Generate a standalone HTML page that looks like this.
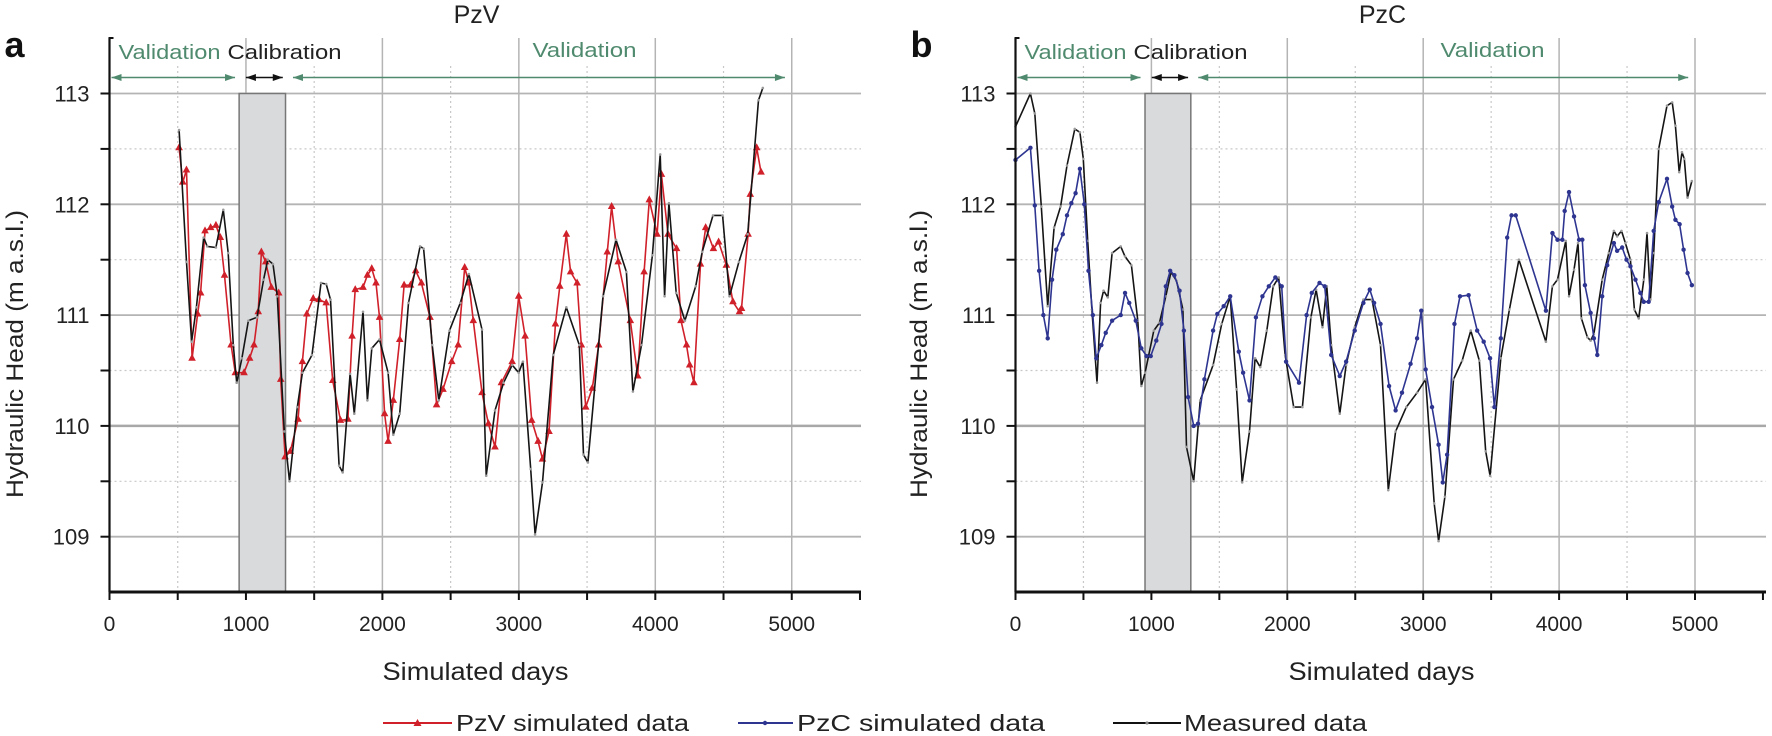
<!DOCTYPE html>
<html><head><meta charset="utf-8"><title>PzV / PzC hydraulic head</title>
<style>
html,body{margin:0;padding:0;background:#fff;}
svg{display:block;font-family:"Liberation Sans Narrow","Liberation Sans",sans-serif;}
</style></head>
<body>
<svg id="chart" width="1772" height="736" viewBox="0 0 1772 736" xmlns="http://www.w3.org/2000/svg">
<g id="panelA"></g>
<g id="panelB"></g>
<g id="legend">
  <g>
    <line x1="383" y1="723" x2="452" y2="723" stroke="#d0202a" stroke-width="2"/>
    <path d="M417.5,719 L421.5,726 L413.5,726 Z" fill="#d0202a"/>
    <text x="456" y="731" font-size="23" fill="#222" textLength="233" lengthAdjust="spacingAndGlyphs">PzV simulated data</text>
  </g>
  <g>
    <line x1="738" y1="723" x2="793" y2="723" stroke="#2e3590" stroke-width="2"/>
    <circle cx="765" cy="723" r="2.2" fill="#2e3590"/>
    <text x="797" y="731" font-size="23" fill="#222" textLength="248" lengthAdjust="spacingAndGlyphs">PzC simulated data</text>
  </g>
  <g>
    <line x1="1113" y1="723" x2="1181" y2="723" stroke="#111" stroke-width="2"/>
    <circle cx="1147" cy="723" r="1.6" fill="#888"/>
    <text x="1184" y="731" font-size="23" fill="#222" textLength="183" lengthAdjust="spacingAndGlyphs">Measured data</text>
  </g>
</g>
</svg>
<script>
// ---- Data ----
const yTicks = [109, 110, 111, 112, 113];
const xTicks = [0, 1000, 2000, 3000, 4000, 5000];

const measAdays = [510,564,602,637,690,716,780,834,870,907,932,970,1018,1081,1129,1160,1198,1230,1281,1319,1376,1414,1484,1550,1588,1620,1683,1709,1763,1794,1858,1890,1922,1979,2042,2080,2127,2191,2276,2302,2365,2413,2492,2571,2634,2730,2761,2825,2888,2951,2999,3030,3087,3119,3173,3252,3348,3443,3474,3506,3617,3712,3788,3836,3899,3979,4036,4068,4100,4153,4217,4296,4344,4423,4493,4544,4613,4677,4756,4788];
const measAvals = [112.67,111.48,110.76,111.07,111.70,111.62,111.61,111.95,111.56,110.73,110.39,110.61,110.95,110.98,111.32,111.50,111.46,111.17,109.95,109.50,110.17,110.48,110.64,111.29,111.28,111.14,109.64,109.58,110.47,110.11,111.03,110.23,110.70,110.78,110.48,109.92,110.11,111.11,111.62,111.60,110.73,110.23,110.86,111.11,111.37,110.87,109.55,110.14,110.39,110.55,110.48,110.58,109.61,109.02,109.49,110.64,111.07,110.73,109.74,109.67,111.17,111.68,111.39,110.31,110.73,111.54,112.45,111.17,112.01,111.20,110.95,111.26,111.57,111.90,111.90,111.17,111.48,111.73,112.94,113.05];

const pzvDays = [510,537,564,605,646,668,700,741,780,812,843,891,922,986,1027,1059,1090,1113,1145,1186,1240,1255,1287,1325,1382,1414,1446,1493,1535,1588,1636,1693,1747,1778,1801,1858,1890,1922,1953,1979,2016,2042,2080,2127,2159,2206,2244,2286,2349,2397,2444,2508,2555,2603,2634,2666,2730,2777,2825,2872,2951,2999,3046,3094,3141,3173,3221,3268,3300,3348,3379,3427,3458,3490,3538,3585,3648,3680,3728,3817,3871,3918,3956,4013,4045,4093,4156,4188,4229,4252,4283,4331,4369,4426,4464,4521,4569,4617,4632,4680,4696,4743,4775];
const pzvVals = [112.51,112.20,112.31,110.61,111.01,111.20,111.76,111.79,111.81,111.70,111.36,110.73,110.48,110.48,110.61,110.73,111.03,111.57,111.48,111.25,111.20,110.42,109.72,109.77,110.06,110.58,111.01,111.15,111.14,111.11,110.41,110.05,110.06,110.81,111.23,111.25,111.36,111.42,111.29,110.98,110.11,109.86,110.23,110.78,111.27,111.27,111.40,111.29,110.98,110.19,110.33,110.58,110.73,111.43,111.29,110.95,110.30,110.02,109.81,110.39,110.58,111.17,110.81,110.05,109.86,109.70,109.95,110.92,111.26,111.73,111.39,111.29,110.73,110.17,110.34,110.73,111.57,111.98,111.48,110.95,110.45,111.39,112.04,111.73,112.27,111.73,111.60,110.95,110.73,110.55,110.39,111.46,111.79,111.60,111.66,111.45,111.12,111.03,111.06,111.73,112.09,112.51,112.29];

const measBdays = [0,110,142,190,237,284,332,379,436,474,499,531,562,600,626,648,679,711,774,806,853,900,926,954,1018,1059,1106,1144,1185,1232,1258,1311,1359,1454,1517,1580,1627,1668,1722,1763,1801,1849,1896,1937,1984,2047,2111,2174,2212,2259,2291,2323,2386,2433,2496,2560,2623,2686,2743,2797,2876,2955,3018,3081,3113,3160,3223,3287,3350,3413,3460,3492,3571,3634,3704,3903,3951,3988,4049,4073,4110,4139,4164,4208,4232,4256,4317,4366,4403,4427,4459,4488,4525,4554,4586,4623,4647,4672,4696,4733,4794,4832,4856,4884,4904,4921,4945,4977];
const measBvals = [112.70,113.00,112.82,111.98,111.08,111.79,111.98,112.35,112.68,112.65,112.41,111.67,111.05,110.39,111.11,111.22,111.16,111.56,111.62,111.53,111.45,110.95,110.36,110.48,110.86,110.93,111.17,111.39,111.31,111.05,109.81,109.50,110.23,110.55,110.92,111.17,110.33,109.49,109.95,110.61,110.53,110.86,111.26,111.34,110.64,110.17,110.17,110.98,111.23,110.89,111.26,110.73,110.11,110.55,110.89,111.14,111.14,110.73,109.42,109.95,110.17,110.30,110.42,109.30,108.96,109.36,110.42,110.59,110.86,110.59,109.77,109.55,110.61,111.05,111.50,110.76,111.26,111.32,111.67,111.17,111.41,111.65,110.97,110.80,110.77,110.83,111.32,111.56,111.76,111.71,111.76,111.65,111.50,111.05,110.97,111.32,111.74,111.14,111.56,112.50,112.89,112.92,112.71,112.29,112.47,112.41,112.06,112.21];

const pzcDays = [0,110,142,174,205,237,269,300,348,379,411,442,474,506,537,569,594,632,664,711,774,806,837,885,926,964,995,1036,1074,1106,1138,1169,1207,1239,1270,1311,1343,1390,1454,1485,1532,1580,1643,1675,1722,1769,1817,1864,1912,1959,1991,2086,2142,2180,2237,2275,2323,2386,2433,2496,2560,2607,2639,2686,2749,2797,2844,2907,2955,2986,3018,3065,3113,3144,3176,3230,3271,3334,3397,3445,3492,3524,3571,3618,3650,3681,3903,3951,3988,4024,4041,4073,4110,4147,4171,4190,4232,4256,4281,4317,4354,4403,4427,4464,4496,4525,4562,4598,4623,4659,4696,4733,4794,4832,4856,4887,4916,4945,4977];
const pzcVals = [112.40,112.51,111.99,111.40,111.00,110.79,111.32,111.59,111.73,111.90,112.01,112.10,112.32,112.00,111.40,111.00,110.61,110.73,110.84,110.95,111.00,111.20,111.11,110.95,110.70,110.63,110.63,110.77,110.92,111.26,111.40,111.36,111.22,110.86,110.26,110.00,110.02,110.42,110.86,111.01,111.08,111.17,110.67,110.48,110.23,110.98,111.17,111.26,111.34,111.26,110.58,110.39,111.00,111.20,111.29,111.26,110.64,110.45,110.58,110.86,111.11,111.23,111.11,110.92,110.36,110.14,110.30,110.56,110.79,111.04,110.51,110.17,109.83,109.49,109.74,110.92,111.17,111.18,110.86,110.76,110.61,110.17,110.79,111.70,111.90,111.90,111.04,111.74,111.68,111.68,111.94,112.11,111.89,111.68,111.68,111.27,111.02,110.79,110.64,111.17,111.45,111.65,111.58,111.61,111.50,111.44,111.32,111.20,111.12,111.12,111.76,112.02,112.23,111.98,111.86,111.82,111.59,111.38,111.27];

// ---- Helpers ----
const NS = 'http://www.w3.org/2000/svg';
function mk(parent, tag, attrs, txt) {
  const e = document.createElementNS(NS, tag);
  for (const k in attrs) e.setAttribute(k, attrs[k]);
  if (txt !== undefined) e.textContent = txt;
  parent.appendChild(e);
  return e;
}
const Y_TOP = 38, Y_BOT = 592;
function yScale(v) { return 93.5 + (113 - v) * 110.8; }

function drawPanel(g, cfg) {
  const xS = d => cfg.x0 + d * cfg.k;
  const xRight = cfg.xEnd;
  // grid: dotted half units (horizontal)
  for (let v = 108.5; v <= 113.5; v += 0.5) {
    if (Math.abs(v - Math.round(v)) < 0.01) continue;
    if (v > 112.6 || v < 108.6) continue;
    const ln = mk(g, 'line', {x1: cfg.x0, x2: xRight, y1: yScale(v), y2: yScale(v), stroke: '#c8c8c8', 'stroke-width': 1.2, 'stroke-dasharray': '2,3'});
    
    
  }
  // vertical dotted
  for (let d = 500; d <= 5000; d += 1000) {
    const ln = mk(g, 'line', {x1: xS(d), x2: xS(d), y1: 66, y2: Y_BOT, stroke: '#c8c8c8', 'stroke-width': 1.2, 'stroke-dasharray': '2,3'});
    
    
  }
  // vertical solid
  for (let d = 1000; d <= 5000; d += 1000) {
    const ln = mk(g, 'line', {x1: xS(d), x2: xS(d), y1: 38, y2: Y_BOT, stroke: '#b4b4b4', 'stroke-width': 1.5});
    
    
  }
  // horizontal solid
  yTicks.forEach(v => {
    const ln = mk(g, 'line', {x1: cfg.x0, x2: xRight, y1: yScale(v), y2: yScale(v), stroke: v === 110 ? '#a8a8a8' : '#b4b4b4', 'stroke-width': v === 110 ? 2.5 : 1.8});
    
    
  });
  // calibration band
  const band = mk(g, 'rect', {x: xS(cfg.calStart), y: yScale(113), width: xS(cfg.calEnd) - xS(cfg.calStart), height: Y_BOT - yScale(113), fill: '#d9dadc', stroke: '#777', 'stroke-width': 1.5});
  
  
  // period arrows
  const arrows = [[0, cfg.v1End, '#4f8a6e'], [cfg.calStart + 35, cfg.calEnd - 20, '#111'], [cfg.calEnd + 40, cfg.arrowEnd, '#4f8a6e']];
  arrows.forEach((a, i) => {
    const ag = mk(g, 'g', {});
    
    
    const x1 = xS(a[0]) + 2, x2 = xS(a[1]), yy = 77.5;
    mk(ag, 'line', {x1: x1, x2: x2, y1: yy, y2: yy, stroke: a[2], 'stroke-width': 1.6});
    mk(ag, 'path', {d: `M${x1},${yy} L${x1 + 10},${yy - 3.5} L${x1 + 10},${yy + 3.5} Z`, fill: a[2]});
    mk(ag, 'path', {d: `M${x2},${yy} L${x2 - 10},${yy - 3.5} L${x2 - 10},${yy + 3.5} Z`, fill: a[2]});
  });
  // period labels
  const t1 = mk(g, 'text', {x: cfg.x0 + 9, y: 59, 'font-size': 20, fill: '#4f8a6e', textLength: 102, lengthAdjust: 'spacingAndGlyphs'}, 'Validation');
  
  
  const t2 = mk(g, 'text', {x: cfg.x0 + 118, y: 59, 'font-size': 20, fill: '#222', textLength: 114, lengthAdjust: 'spacingAndGlyphs'}, 'Calibration');
  
  
  const t3 = mk(g, 'text', {x: cfg.x0 + cfg.v2x, y: 57, 'font-size': 20, fill: '#4f8a6e', textLength: 104, lengthAdjust: 'spacingAndGlyphs'}, 'Validation');
  
  

  // series
  cfg.series.forEach(s => {
    const sg = mk(g, 'g', {});
    
    
    let d = '';
    s.days.forEach((dd, i) => { d += (i ? 'L' : 'M') + xS(dd).toFixed(1) + ',' + yScale(s.vals[i]).toFixed(1); });
    mk(sg, 'path', {d: d, fill: 'none', stroke: s.color, 'stroke-width': 1.6, 'stroke-linejoin': 'round'});
    s.days.forEach((dd, i) => {
      const cx = xS(dd), cy = yScale(s.vals[i]);
      let m;
      if (s.marker === 'tri') m = mk(sg, 'path', {d: `M${cx},${cy - 4.5} L${cx + 3.8},${cy + 2.5} L${cx - 3.8},${cy + 2.5} Z`, fill: s.color});
      else if (s.marker === 'circ') m = mk(sg, 'circle', {cx: cx, cy: cy, r: 2.2, fill: s.color});
      else m = mk(sg, 'circle', {cx: cx, cy: cy, r: 1.3, fill: '#9a9a9a'});
      
      
    });
  });

  // axes
  const ya = mk(g, 'line', {x1: cfg.x0, x2: cfg.x0, y1: Y_TOP, y2: Y_BOT, stroke: '#111', 'stroke-width': 2.2});
  
  
  mk(g, 'line', {x1: cfg.x0 - 1, x2: cfg.x0 + 4, y1: Y_TOP, y2: Y_TOP, stroke: '#111', 'stroke-width': 2});
  for (let v = 109; v <= 113; v += 0.5) {
    mk(g, 'line', {x1: cfg.x0 - 9, x2: cfg.x0, y1: yScale(v), y2: yScale(v), stroke: '#111', 'stroke-width': 2});
  }
  yTicks.forEach(v => {
    const t = mk(g, 'text', {x: cfg.x0 - 20, y: yScale(v) + 8, 'font-size': 22, fill: '#222', 'text-anchor': 'end'}, String(v));
    
    
  });
  const xa = mk(g, 'line', {x1: cfg.x0 - 1, x2: xRight, y1: Y_BOT, y2: Y_BOT, stroke: '#111', 'stroke-width': 3});
  
  
  for (let d = 0; d <= 5500; d += 500) {
    mk(g, 'line', {x1: xS(d), x2: xS(d), y1: Y_BOT, y2: Y_BOT + 8, stroke: '#111', 'stroke-width': 2});
  }
  xTicks.forEach(d => {
    const t = mk(g, 'text', {x: xS(d), y: 631, 'font-size': 21, fill: '#222', 'text-anchor': 'middle'}, String(d));
    
    
  });
  const xt = mk(g, 'text', {x: cfg.x0 + 366, y: 680, 'font-size': 25, fill: '#222', 'text-anchor': 'middle', textLength: 186, lengthAdjust: 'spacingAndGlyphs'}, 'Simulated days');
  
  
  const yt = mk(g, 'text', {x: 0, y: 0, 'font-size': 24, fill: '#222', 'text-anchor': 'middle', textLength: 288, lengthAdjust: 'spacingAndGlyphs', transform: `translate(${cfg.ytX},354) rotate(-90)`}, 'Hydraulic Head (m a.s.l.)');
  
  
  const tt = mk(g, 'text', {x: cfg.x0 + 367, y: 23, 'font-size': 25, fill: '#222', 'text-anchor': 'middle'}, cfg.title);
  
  
  const pl = mk(g, 'text', {x: cfg.x0 - 105, y: 57, 'font-size': 36, 'font-weight': 'bold', fill: '#111', 'font-family': 'Liberation Sans, sans-serif'}, cfg.letter);
  
  
}

drawPanel(document.getElementById('panelA'), {
  x0: 109.5, k: 0.13645, xEnd: 861, calStart: 950, calEnd: 1290, v1End: 920, arrowEnd: 4950,
  v2x: 423, ytX: 23, title: 'PzV', letter: 'a',
  series: [
    {name: 'pzv-simulated-series', days: pzvDays, vals: pzvVals, color: '#d0202a', marker: 'tri'},
    {name: 'measured-series', days: measAdays, vals: measAvals, color: '#151515', marker: 'dot'}
  ]
});
drawPanel(document.getElementById('panelB'), {
  x0: 1015.5, k: 0.1359, xEnd: 1766, calStart: 953, calEnd: 1290, v1End: 920, arrowEnd: 4950,
  v2x: 425, ytX: 927, title: 'PzC', letter: 'b',
  series: [
    {name: 'measured-series', days: measBdays, vals: measBvals, color: '#151515', marker: 'dot'},
    {name: 'pzc-simulated-series', days: pzcDays, vals: pzcVals, color: '#2e3590', marker: 'circ'}
  ]
});
</script>
</body></html>
